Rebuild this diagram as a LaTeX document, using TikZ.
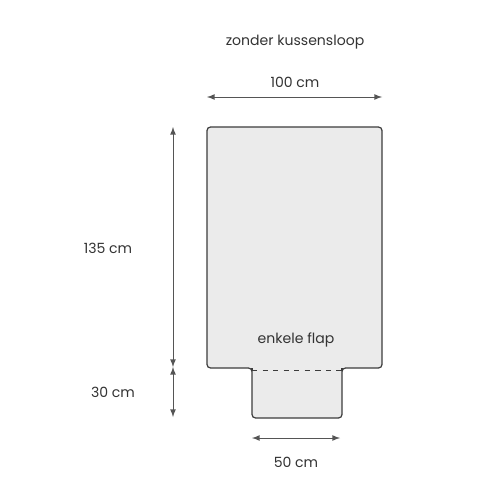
\documentclass[tikz,border=0pt]{standalone}
\usepackage{fontspec}
\setmainfont{Poppins}
\usepackage{tikz}
\usetikzlibrary{arrows,calc}
\definecolor{deken}{HTML}{EBEBEB}
\definecolor{rand}{HTML}{3C3C3C}
\definecolor{maat}{HTML}{555555}
\tikzset{
  maatlijn/.style={draw=maat, line width=0.5pt, >=latex},
  label/.style={font=\fontsize{8}{10}\selectfont, text=black!80},
}

\begin{document}
\begin{tikzpicture}[x=0.02cm,y=-0.02cm]
\useasboundingbox (0,0) rectangle (500,500);
% hoeken deken en flap
\coordinate (lb) at (207,127);
\coordinate (rb) at (382,127);
\coordinate (lo) at (207,368);
\coordinate (ro) at (382,368);
\coordinate (fl) at (252,368);
\coordinate (fr) at (342,368);
\coordinate (fla) at (252,418);
\coordinate (fra) at (342,418);
% deken met flap
\filldraw[fill=deken, draw=rand, line width=0.7pt, rounded corners=2pt]
  (fl) -- (lo) -- (lb) -- (rb) -- (ro) -- (fr) -- (fra) -- (fla) -- cycle;
\draw[fill=deken, draw=deken] ($(fl)+(1,-1)$) rectangle ($(fr)+(-1,1)$);
\draw[rand, dashed, line width=0.5pt] ($(fl)+(0,2)$) -- ($(fr)+(0,2)$);
\draw[rand, line width=0.7pt] (fl) -- ($(fl)+(0,3)$) (fr) -- ($(fr)+(0,3)$);
% maten
\coordinate (vb) at (173,127);
\coordinate (vm) at (173,367);
\coordinate (vo) at (173,417);
\draw[maatlijn, <->] ($(lb)+(0,-30)$) -- ($(rb)+(0,-30)$);
\draw[maatlijn, <->] (vb) -- (vm);
\draw[maatlijn, <->] (vm) -- (vo);
\draw[maatlijn, <->] ($(fla)+(0,20)$) -- ($(fra)+(-2,20)$);
% teksten
\node[label] (titel) at (295,42) {zonder kussensloop};
\node[label] (breed) at (295,82) {100 cm};
\node[label] (lang) at (108,248) {135 cm};
\node[label] (flaplang) at (113,392) {30 cm};
\node[label] (flapbreed) at (296,462) {50 cm};
\node[label] (flap) at (296,340) {enkele flap};
\end{tikzpicture}
\end{document}
